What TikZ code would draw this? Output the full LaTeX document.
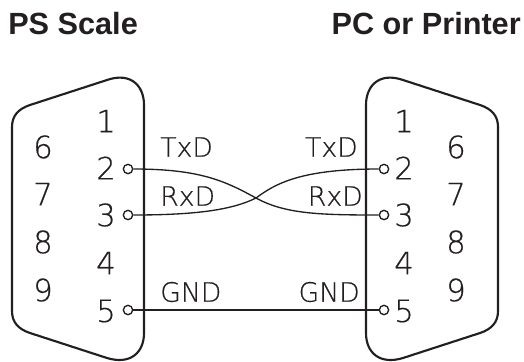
\documentclass[tikz,border=0pt]{standalone}
\usepackage{fontspec}
\setmainfont{DejaVu Sans}
\newfontfamily\thinfont[UprightFont=* ExtraLight,UprightFeatures={FakeBold=0.5}]{DejaVu Sans}
\newfontfamily\headfont{Liberation Sans}[UprightFont=* Bold]
\usetikzlibrary{positioning}
\definecolor{ink}{HTML}{231F20}
\tikzset{
  pinnum/.style={inner sep=0pt, font=\thinfont\fontsize{23}{23}\selectfont, text=ink},
  signame/.style={inner sep=0pt, font=\thinfont\fontsize{20}{20}\selectfont, text=ink},
  heading/.style={inner sep=0pt, font=\headfont\fontsize{23}{24}\selectfont, text=ink},
  pinhole/.style={circle, draw=ink, line width=1pt, minimum size=7pt, inner sep=0pt, fill=white},
  wire/.style={draw=ink, line width=1pt},
  shell/.style={draw=ink, line width=1.6pt, line join=round}
}
\begin{document}
\begin{tikzpicture}[x=0.75pt,y=-0.75pt]
\useasboundingbox (0,0) rectangle (524,361);

% Headings
\node[heading,anchor=west] (headl) at (8,24) {PS Scale};
\node[heading,anchor=east] (headr) at (521,24) {PC or Printer};

% Connector shells
\draw[shell] (12,127) -- (12,311) .. controls (12,322) and (18,329) .. (30,333)
  -- (107,358) .. controls (130,365) and (144,353) .. (144,333)
  -- (144,105) .. controls (144,85) and (130,72) .. (107,80)
  -- (30,105) .. controls (18,109) and (12,116) .. cycle;
\draw[shell] (498,127) -- (498,311) .. controls (498,322) and (492,329) .. (480,333)
  -- (403,358) .. controls (380,365) and (366,353) .. (366,333)
  -- (366,105) .. controls (366,85) and (380,72) .. (403,80)
  -- (480,105) .. controls (492,109) and (498,116) .. cycle;

% Pin numbers
\foreach \n/\y in {1/121,2/168,3/215,4/263,5/311} {
    \node[pinnum] (numl\n) at (106,\y) {\n};
    \node[pinnum] (numr\n) at (404,\y) {\n};
}
\foreach \n/\y in {6/147,7/194,8/242,9/290} {
    \node[pinnum] (numl\n) at (43,\y) {\n};
    \node[pinnum] (numr\n) at (456,\y) {\n};
}

% Pin holes
\foreach \n/\y in {2/169,3/215,5/310} {
    \node[pinhole] (pinl\n) at (128,\y) {};
    \node[pinhole] (pinr\n) at (384,\y) {};
}

% Wires
\coordinate (cross) at (256,198);
\draw[wire] (pinl2) .. controls (200,169) and (225,181) .. (cross)
  .. controls (285,214) and (320,215) .. (pinr3);
\draw[wire] (pinl3) .. controls (195,215) and (232,210) .. (cross)
  .. controls (275,184) and (300,169) .. (pinr2);
\draw[wire] (pinl5) -- (pinr5);

% Signal names
\node[signame,anchor=west] (txdl) at (160,147) {TxD};
\node[signame,anchor=west] (rxdl) at (160,196) {RxD};
\node[signame,anchor=west] (gndl) at (160,292) {GND};
\node[signame,anchor=east] (txdr) at (358,147) {TxD};
\node[signame,anchor=east] (rxdr) at (363,196) {RxD};
\node[signame,anchor=east] (gndr) at (360,292) {GND};
\end{tikzpicture}
\end{document}
